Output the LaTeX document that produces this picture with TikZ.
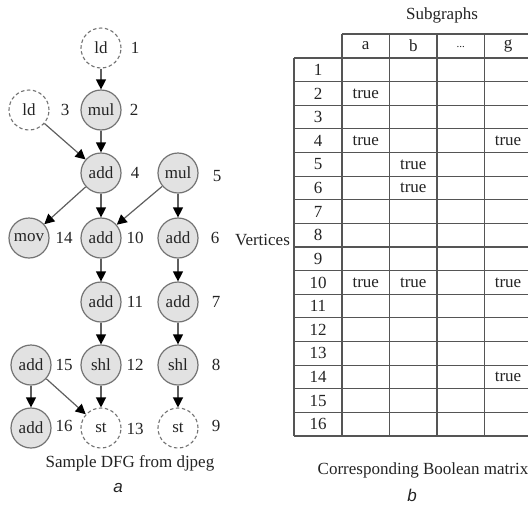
\documentclass[tikz,border=0pt]{standalone}
\usepackage{fontspec}
\setmainfont{Liberation Serif}
\setsansfont{Liberation Sans}
\usetikzlibrary{arrows.meta}
\definecolor{edgegray}{RGB}{95,95,95}
\definecolor{rimgray}{RGB}{115,115,115}
\definecolor{opfill}{RGB}{226,226,226}
\definecolor{gridgray}{RGB}{85,85,85}
\definecolor{inkgray}{RGB}{35,35,35}
\tikzset{
  every node/.style={font=\fontsize{17}{19}\selectfont, text=inkgray},
  op/.style={circle, draw=rimgray, line width=1.2pt, fill=opfill, minimum size=40pt, inner sep=0pt},
  io/.style={circle, draw=rimgray, line width=1.1pt, dash pattern=on 3.5pt off 2.5pt, fill=white, minimum size=40pt, inner sep=0pt},
  idx/.style={inner sep=0pt},
  flow/.style={draw=edgegray, line width=1.2pt, -{Triangle[length=10pt,width=10pt,fill=black,color=black]}},
  grid/.style={draw=gridgray, line width=1.2pt},
  cell/.style={inner sep=0pt},
  caption/.style={inner sep=0pt},
  panel/.style={inner sep=0pt, font=\sffamily\itshape\fontsize{17}{19}\selectfont}
}
\begin{document}
\begin{tikzpicture}[x=1pt, y=-1pt]
\useasboundingbox (0,0) rectangle (528,504);

% ---- data flow graph ----
\node[io] (n1)  at (101,48)  {ld};
\node[op] (n2)  at (101,110) {mul};
\node[io] (n3)  at (29,110)  {ld};
\node[op] (n4)  at (101,173) {add};
\node[op] (n5)  at (178,173) {mul};
\node[op] (n14) at (29,238)  {mov};
\node[op] (n10) at (101,238) {add};
\node[op] (n6)  at (178,238) {add};
\node[op] (n11) at (101,302) {add};
\node[op] (n7)  at (178,302) {add};
\node[op] (n15) at (31,365)  {add};
\node[op] (n12) at (101,365) {shl};
\node[op] (n8)  at (178,365) {shl};
\node[op] (n16) at (31,428)  {add};
\node[io] (n13) at (101,428) {st};
\node[io] (n9)  at (178,428) {st};

% vertex numbers
\node[idx] (i1)  at (135,48)  {1};
\node[idx] (i2)  at (134,110) {2};
\node[idx] (i3)  at (65,110)  {3};
\node[idx] (i4)  at (135,173) {4};
\node[idx] (i5)  at (217,176) {5};
\node[idx] (i14) at (64,238)  {14};
\node[idx] (i10) at (135,238) {10};
\node[idx] (i6)  at (215,238) {6};
\node[idx] (i11) at (135,302) {11};
\node[idx] (i7)  at (216,302) {7};
\node[idx] (i15) at (64,365)  {15};
\node[idx] (i12) at (135,365) {12};
\node[idx] (i8)  at (216,365) {8};
\node[idx] (i16) at (64,426)  {16};
\node[idx] (i13) at (135,429) {13};
\node[idx] (i9)  at (216,426) {9};

% edges
\draw[flow] (n1) -- (n2);
\draw[flow] (n2) -- (n4);
\draw[flow] (n3) -- (n4);
\draw[flow] (n4) -- (n14);
\draw[flow] (n4) -- (n10);
\draw[flow] (n5) -- (n10);
\draw[flow] (n5) -- (n6);
\draw[flow] (n10) -- (n11);
\draw[flow] (n6) -- (n7);
\draw[flow] (n11) -- (n12);
\draw[flow] (n7) -- (n8);
\draw[flow] (n12) -- (n13);
\draw[flow] (n8) -- (n9);
\draw[flow] (n15) -- (n16);
\draw[flow] (n15) -- (n13);

\node[caption] (capa) at (130,463) {Sample DFG from djpeg};
\node[panel] (pa) at (118,488) {a};

% ---- Boolean matrix ----
\begin{scope}
\clip (0,0) rectangle (528,504);
% horizontal rules
\draw[grid] (342,34) -- (532,34);
\foreach \r in {0,...,16} {
  \draw[grid] (294,{58+23.625*\r}) -- (532,{58+23.625*\r});
}
% vertical rules
\draw[grid] (294,58) -- (294,436);
\foreach \c in {342,389.5,437,484.5} {
  \draw[grid] (\c,34) -- (\c,436);
}
\end{scope}

% column heads
\node[cell] (ha) at (365.75,46) {a};
\node[cell] (hb) at (413.25,46) {b};
\node[cell] (hd) at (460.75,47) {\fontsize{11}{12}\selectfont...};
\node[cell] (hg) at (508,46) {g};

% row heads
\foreach \r in {1,...,16} {
  \node[cell] (r\r) at (318,{58+23.625*(\r-0.5)}) {\r};
}

% entries
\foreach \r/\c in {2/365.75, 4/365.75, 4/508, 5/413.25, 6/413.25, 10/365.75, 10/413.25, 10/508, 14/508} {
  \node[cell] at (\c,{58+23.625*(\r-0.5)}) {true};
}

\node[caption] (sub) at (442,15) {Subgraphs};
\node[caption] (ver) at (262.5,240) {Vertices};
\node[caption] (capb) at (423,470) {Corresponding Boolean matrix};
\node[panel] (pb) at (412,495) {b};
\end{tikzpicture}
\end{document}
